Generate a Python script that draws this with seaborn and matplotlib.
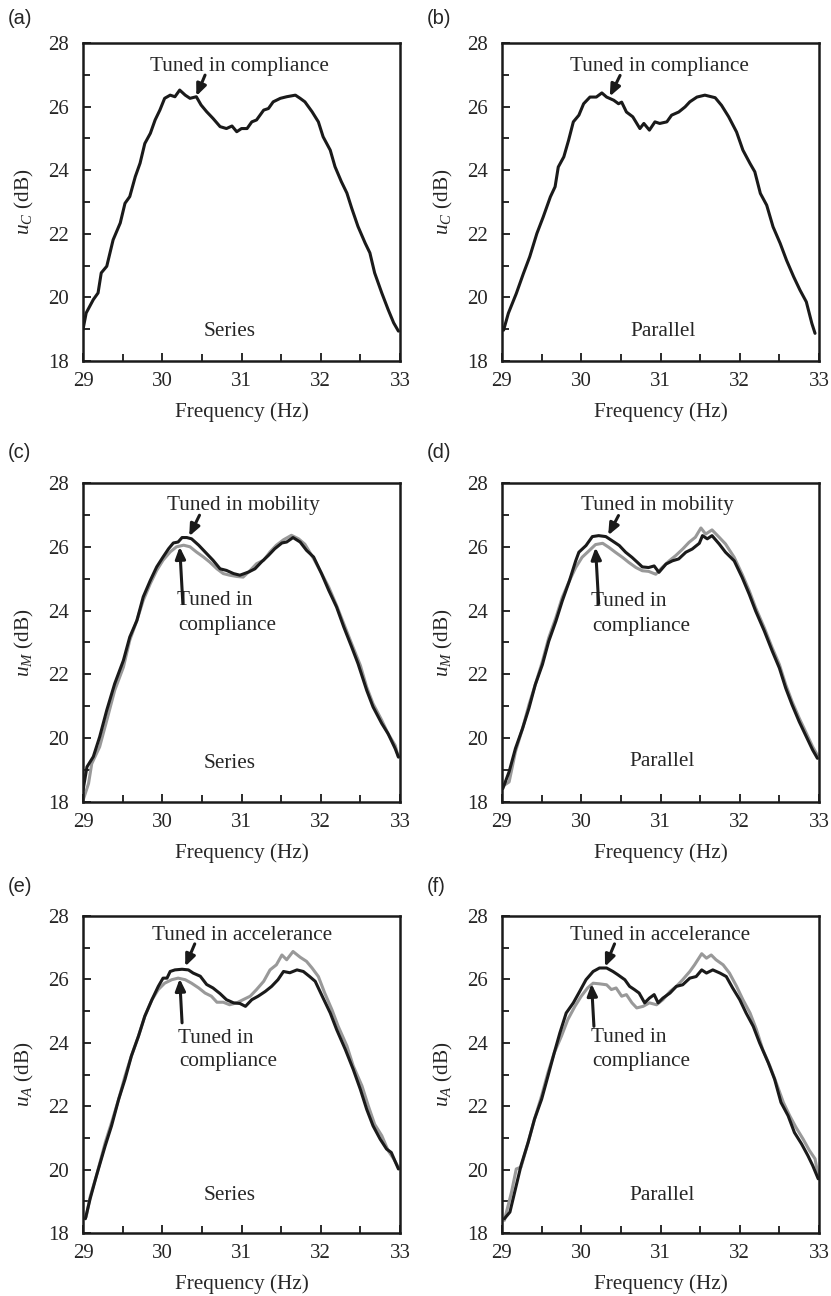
import numpy as np
import pandas as pd
import matplotlib
matplotlib.use("Agg")
import matplotlib.pyplot as plt
from matplotlib.ticker import MultipleLocator
import seaborn as sns

# ---------------- data ----------------
a_f = [29.00, 29.04, 29.13, 29.19, 29.23, 29.30, 29.38, 29.47, 29.53, 29.59, 29.66, 29.72, 29.78, 29.85,
       29.91, 29.97, 30.03, 30.10, 30.16, 30.22, 30.29, 30.35, 30.43, 30.49, 30.56, 30.64, 30.73, 30.81,
       30.88, 30.94, 31.00, 31.07, 31.13, 31.19, 31.28, 31.34, 31.40, 31.49, 31.57, 31.68, 31.74, 31.80,
       31.89, 31.97, 32.03, 32.12, 32.18, 32.26, 32.33, 32.39, 32.47, 32.56, 32.62, 32.68, 32.77, 32.85,
       32.92, 32.98]
a_c = [18.99, 19.51, 19.93, 20.14, 20.77, 20.98, 21.81, 22.34, 22.96, 23.17, 23.80, 24.22, 24.84, 25.16,
       25.58, 25.89, 26.26, 26.36, 26.31, 26.52, 26.36, 26.26, 26.31, 26.05, 25.84, 25.63, 25.37, 25.31,
       25.39, 25.21, 25.31, 25.31, 25.52, 25.58, 25.89, 25.94, 26.15, 26.26, 26.31, 26.36, 26.26, 26.15,
       25.84, 25.52, 25.05, 24.63, 24.11, 23.64, 23.28, 22.81, 22.23, 21.71, 21.40, 20.77, 20.14, 19.62,
       19.20, 18.94]

b_f = [29.02, 29.08, 29.18, 29.27, 29.35, 29.44, 29.52, 29.61, 29.67, 29.71, 29.78, 29.84, 29.90, 29.97,
       30.03, 30.11, 30.19, 30.26, 30.32, 30.41, 30.47, 30.51, 30.57, 30.65, 30.74, 30.79, 30.86, 30.93,
       30.99, 31.08, 31.14, 31.23, 31.31, 31.37, 31.46, 31.56, 31.69, 31.77, 31.86, 31.96, 32.04, 32.13,
       32.19, 32.26, 32.34, 32.42, 32.51, 32.59, 32.68, 32.76, 32.84, 32.91, 32.95]
b_c = [18.97, 19.50, 20.12, 20.75, 21.28, 22.01, 22.53, 23.16, 23.48, 24.10, 24.42, 24.94, 25.52, 25.73,
       26.09, 26.30, 26.30, 26.43, 26.30, 26.20, 26.09, 26.14, 25.83, 25.68, 25.31, 25.47, 25.26, 25.52,
       25.47, 25.52, 25.73, 25.83, 25.99, 26.15, 26.30, 26.36, 26.28, 26.04, 25.68, 25.20, 24.63, 24.21,
       23.95, 23.27, 22.90, 22.22, 21.70, 21.17, 20.65, 20.23, 19.86, 19.18, 18.87]

c_f_m = [29.00, 29.05, 29.13, 29.21, 29.30, 29.40, 29.51, 29.59, 29.68, 29.76, 29.85, 29.93, 30.01, 30.08,
         30.14, 30.20, 30.25, 30.31, 30.37, 30.46, 30.54, 30.64, 30.73, 30.81, 30.90, 30.98, 31.09, 31.17,
         31.25, 31.34, 31.42, 31.51, 31.57, 31.65, 31.74, 31.82, 31.91, 32.01, 32.10, 32.20, 32.29, 32.39,
         32.47, 32.58, 32.66, 32.77, 32.85, 32.94, 32.98]
c_m = [18.37, 19.10, 19.42, 20.04, 20.88, 21.71, 22.44, 23.17, 23.69, 24.43, 24.95, 25.37, 25.68, 25.94,
       26.12, 26.15, 26.29, 26.29, 26.25, 26.05, 25.84, 25.58, 25.31, 25.26, 25.16, 25.11, 25.21, 25.31,
       25.52, 25.73, 25.94, 26.12, 26.15, 26.29, 26.15, 25.89, 25.68, 25.16, 24.64, 24.11, 23.49, 22.86,
       22.34, 21.50, 20.98, 20.46, 20.14, 19.67, 19.41]
c_f_c = [29.00, 29.07, 29.11, 29.21, 29.30, 29.40, 29.51, 29.59, 29.68, 29.76, 29.85, 29.93, 30.01, 30.10,
         30.18, 30.27, 30.35, 30.43, 30.52, 30.60, 30.69, 30.77, 30.85, 30.94, 31.02, 31.11, 31.19, 31.28,
         31.36, 31.44, 31.53, 31.63, 31.72, 31.80, 31.91, 31.99, 32.10, 32.20, 32.29, 32.39, 32.50, 32.58,
         32.66, 32.77, 32.85, 32.94, 32.98]
c_c = [18.05, 18.58, 19.20, 19.73, 20.56, 21.50, 22.23, 23.07, 23.69, 24.32, 24.85, 25.26, 25.58, 25.84,
       26.00, 26.05, 26.00, 25.84, 25.68, 25.52, 25.31, 25.16, 25.11, 25.07, 25.05, 25.26, 25.47, 25.58,
       25.84, 26.05, 26.22, 26.36, 26.25, 26.08, 25.63, 25.26, 24.74, 24.16, 23.59, 22.96, 22.28, 21.60,
       21.08, 20.56, 20.14, 19.77, 19.41]

d_f_m = [29.01, 29.09, 29.17, 29.26, 29.34, 29.42, 29.51, 29.59, 29.68, 29.76, 29.85, 29.93, 29.97, 30.06,
         30.14, 30.22, 30.31, 30.39, 30.48, 30.56, 30.64, 30.71, 30.77, 30.85, 30.92, 30.98, 31.07, 31.15,
         31.23, 31.32, 31.40, 31.49, 31.53, 31.59, 31.65, 31.74, 31.82, 31.93, 32.03, 32.12, 32.20, 32.31,
         32.41, 32.50, 32.58, 32.66, 32.75, 32.83, 32.92, 32.98]
d_m = [18.42, 18.95, 19.68, 20.31, 20.94, 21.68, 22.31, 23.04, 23.67, 24.30, 24.93, 25.56, 25.83, 26.04,
       26.32, 26.35, 26.32, 26.19, 26.04, 25.83, 25.67, 25.51, 25.37, 25.35, 25.40, 25.20, 25.46, 25.56,
       25.62, 25.83, 25.93, 26.11, 26.35, 26.25, 26.35, 26.09, 25.83, 25.56, 25.04, 24.51, 23.99, 23.36,
       22.73, 22.20, 21.57, 21.05, 20.52, 20.10, 19.63, 19.37]
d_f_c = [29.03, 29.09, 29.17, 29.26, 29.34, 29.42, 29.51, 29.59, 29.68, 29.76, 29.85, 29.93, 30.01, 30.10,
         30.18, 30.27, 30.35, 30.43, 30.52, 30.60, 30.69, 30.77, 30.85, 30.94, 31.02, 31.11, 31.19, 31.28,
         31.36, 31.44, 31.51, 31.57, 31.65, 31.74, 31.82, 31.93, 32.03, 32.12, 32.20, 32.31, 32.41, 32.50,
         32.58, 32.66, 32.75, 32.83, 32.92, 32.98]
d_c = [18.53, 18.63, 19.58, 20.31, 21.05, 21.68, 22.41, 23.15, 23.78, 24.41, 24.93, 25.35, 25.67, 25.88,
       26.07, 26.11, 25.98, 25.83, 25.67, 25.51, 25.35, 25.25, 25.23, 25.14, 25.35, 25.56, 25.72, 25.93,
       26.14, 26.30, 26.59, 26.40, 26.53, 26.30, 26.09, 25.67, 25.14, 24.62, 24.09, 23.46, 22.83, 22.31,
       21.68, 21.15, 20.63, 20.21, 19.73, 19.47]

e_f_a = [29.03, 29.09, 29.17, 29.28, 29.36, 29.45, 29.53, 29.61, 29.70, 29.78, 29.87, 29.95, 30.01, 30.06,
         30.10, 30.16, 30.25, 30.33, 30.39, 30.48, 30.56, 30.64, 30.73, 30.81, 30.90, 30.98, 31.05, 31.13,
         31.21, 31.30, 31.38, 31.46, 31.53, 31.61, 31.70, 31.78, 31.86, 31.93, 32.03, 32.12, 32.20, 32.31,
         32.41, 32.50, 32.58, 32.66, 32.75, 32.83, 32.89, 32.98]
e_a = [18.45, 19.08, 19.81, 20.75, 21.38, 22.22, 22.85, 23.58, 24.21, 24.84, 25.36, 25.78, 26.04, 26.04,
       26.25, 26.30, 26.32, 26.30, 26.20, 26.10, 25.84, 25.73, 25.55, 25.36, 25.26, 25.24, 25.15, 25.36,
       25.47, 25.62, 25.78, 25.99, 26.25, 26.21, 26.30, 26.25, 26.09, 25.94, 25.41, 24.94, 24.42, 23.79,
       23.16, 22.53, 21.90, 21.38, 20.96, 20.65, 20.54, 20.02]
e_f_c = [29.04, 29.09, 29.17, 29.28, 29.36, 29.45, 29.53, 29.61, 29.70, 29.78, 29.87, 29.95, 30.03, 30.12,
         30.20, 30.29, 30.37, 30.46, 30.54, 30.62, 30.69, 30.77, 30.85, 30.94, 31.02, 31.11, 31.19, 31.28,
         31.36, 31.44, 31.51, 31.57, 31.65, 31.74, 31.82, 31.89, 31.97, 32.05, 32.14, 32.22, 32.33, 32.41,
         32.52, 32.60, 32.68, 32.77, 32.85, 32.92, 32.98]
e_c = [18.51, 19.14, 19.81, 20.85, 21.48, 22.22, 22.95, 23.58, 24.21, 24.84, 25.36, 25.68, 25.88, 25.99,
       26.04, 25.99, 25.88, 25.73, 25.57, 25.47, 25.28, 25.28, 25.20, 25.26, 25.36, 25.47, 25.68, 25.94,
       26.30, 26.46, 26.77, 26.62, 26.88, 26.70, 26.57, 26.36, 26.09, 25.57, 25.05, 24.52, 23.90, 23.27,
       22.64, 22.01, 21.43, 21.07, 20.60, 20.34, 20.07]

f_f_a = [29.03, 29.10, 29.16, 29.24, 29.33, 29.41, 29.50, 29.58, 29.66, 29.73, 29.81, 29.90, 29.98, 30.06,
         30.15, 30.23, 30.32, 30.40, 30.46, 30.55, 30.61, 30.67, 30.73, 30.80, 30.86, 30.92, 30.97, 31.03,
         31.12, 31.20, 31.28, 31.37, 31.45, 31.52, 31.58, 31.66, 31.75, 31.83, 31.91, 32.00, 32.08, 32.17,
         32.25, 32.36, 32.44, 32.52, 32.61, 32.69, 32.78, 32.86, 32.92, 32.99]
f_a = [18.45, 18.66, 19.29, 20.13, 20.86, 21.59, 22.22, 22.95, 23.69, 24.31, 24.94, 25.26, 25.62, 25.99,
       26.25, 26.36, 26.36, 26.25, 26.15, 25.99, 25.78, 25.68, 25.57, 25.26, 25.41, 25.52, 25.26, 25.41,
       25.57, 25.78, 25.83, 26.04, 26.09, 26.30, 26.20, 26.30, 26.20, 26.09, 25.73, 25.36, 24.94, 24.52,
       24.00, 23.37, 22.85, 22.12, 21.70, 21.17, 20.81, 20.44, 20.13, 19.71]
f_f_c = [29.03, 29.12, 29.18, 29.24, 29.33, 29.41, 29.50, 29.58, 29.66, 29.75, 29.83, 29.92, 30.00, 30.08,
         30.15, 30.23, 30.32, 30.38, 30.44, 30.51, 30.57, 30.64, 30.70, 30.78, 30.86, 30.95, 31.03, 31.12,
         31.20, 31.28, 31.37, 31.43, 31.52, 31.58, 31.64, 31.70, 31.79, 31.87, 31.96, 32.04, 32.13, 32.21,
         32.29, 32.38, 32.46, 32.55, 32.63, 32.71, 32.80, 32.88, 32.95, 32.99]
f_c = [18.40, 19.29, 20.02, 20.08, 20.86, 21.59, 22.33, 23.06, 23.69, 24.21, 24.73, 25.15, 25.47, 25.73,
       25.88, 25.86, 25.83, 25.68, 25.73, 25.47, 25.52, 25.26, 25.10, 25.15, 25.26, 25.20, 25.36, 25.62,
       25.78, 25.99, 26.25, 26.46, 26.81, 26.67, 26.77, 26.62, 26.46, 26.20, 25.78, 25.36, 24.94, 24.42,
       23.79, 23.27, 22.74, 22.12, 21.70, 21.33, 20.96, 20.60, 20.34, 19.81]

panel_labels = ["(a)", "(b)", "(c)", "(d)", "(e)", "(f)"]
ylabels = [r"$u_C$ (dB)", r"$u_C$ (dB)", r"$u_M$ (dB)", r"$u_M$ (dB)", r"$u_A$ (dB)", r"$u_A$ (dB)"]
conn_labels = ["Series", "Parallel", "Series", "Parallel", "Series", "Parallel"]
xlabel = "Frequency (Hz)"
x_ticks = [29, 30, 31, 32, 33]
y_ticks = [18, 20, 22, 24, 26, 28]

# ---------------- style ----------------
sns.set_style("ticks")
plt.rcParams["font.family"] = ["Liberation Serif", "DejaVu Serif"]
plt.rcParams["mathtext.fontset"] = "custom"
plt.rcParams["mathtext.rm"] = "Liberation Serif"
plt.rcParams["mathtext.it"] = "Liberation Serif:italic"
plt.rcParams["mathtext.bf"] = "Liberation Serif:bold"

W, H = 831, 1296
fig = plt.figure(figsize=(W / 100, H / 100), dpi=100)

cols_left = [83, 502]
ax_w = 317
rows = [(43, 361), (483, 802), (916, 1233)]
label_off = [25, 30, 29]

BLACK = "#1a1a1a"
GRAY = "#999999"
FS = 15.3
TFS = 15

def make_ax(r, c):
    top, bot = rows[r]
    left = cols_left[c]
    return fig.add_axes([left / W, 1 - bot / H, ax_w / W, (bot - top) / H])

def style_ax(ax, i):
    ax.set_xlim(29, 33)
    ax.set_ylim(18, 28)
    ax.set_xticks(x_ticks)
    ax.set_yticks(y_ticks)
    ax.xaxis.set_minor_locator(MultipleLocator(0.5))
    ax.yaxis.set_minor_locator(MultipleLocator(1))
    ax.tick_params(which="both", direction="in", width=1.3, color=BLACK, labelsize=TFS)
    ax.tick_params(which="major", length=6)
    ax.tick_params(which="minor", length=5)
    ax.tick_params(axis="y", which="both", pad=10)
    ax.tick_params(axis="x", which="both", pad=8)
    for s in ax.spines.values():
        s.set_linewidth(1.8)
        s.set_color(BLACK)
        s.set_visible(True)
    ax.set_xlabel(xlabel, fontsize=FS, labelpad=8)
    ax.set_ylabel(ylabels[i], fontsize=FS, labelpad=9)
    r = i // 2
    fig_x = (cols_left[i % 2] - 75) / W
    fig_y = 1 - (rows[r][0] - label_off[r]) / H
    fig.text(fig_x, fig_y, panel_labels[i], fontsize=14.5, family=["Liberation Sans", "DejaVu Sans"],
             ha="left", va="center")

def draw(ax, f, v, color):
    df = pd.DataFrame({"f": f, "v": v})
    sns.lineplot(data=df, x="f", y="v", ax=ax, color=color, lw=2.2, sort=False,
                 estimator=None, legend=False)

def arrow(ax, tail, tip):
    ax.annotate("", xy=tip, xytext=tail,
                arrowprops=dict(arrowstyle="-|>,head_length=0.7,head_width=0.3",
                                color=BLACK, lw=2.2, shrinkA=0, shrinkB=0))

# (a)
ax = make_ax(0, 0)
draw(ax, a_f, a_c, BLACK)
style_ax(ax, 0)
ax.text(30.98, 27.25, "Tuned in compliance", ha="center", va="center", fontsize=FS)
arrow(ax, (30.54, 26.99), (30.43, 26.33))
ax.text(30.85, 18.94, conn_labels[0], ha="center", va="center", fontsize=FS)

# (b)
ax = make_ax(0, 1)
draw(ax, b_f, b_c, BLACK)
style_ax(ax, 1)
ax.text(30.99, 27.25, "Tuned in compliance", ha="center", va="center", fontsize=FS)
arrow(ax, (30.49, 26.98), (30.36, 26.32))
ax.text(31.03, 18.92, conn_labels[1], ha="center", va="center", fontsize=FS)

# (c)
ax = make_ax(1, 0)
draw(ax, c_f_c, c_c, GRAY)
draw(ax, c_f_m, c_m, BLACK)
style_ax(ax, 2)
ax.text(31.02, 27.30, "Tuned in mobility", ha="center", va="center", fontsize=FS)
arrow(ax, (30.47, 26.99), (30.34, 26.33))
ax.text(30.18, 24.32, "Tuned in", ha="left", va="center", fontsize=FS)
ax.text(30.20, 23.54, "compliance", ha="left", va="center", fontsize=FS)
arrow(ax, (30.26, 24.22), (30.22, 26.00))
ax.text(30.85, 19.2, conn_labels[2], ha="center", va="center", fontsize=FS)

# (d)
ax = make_ax(1, 1)
draw(ax, d_f_c, d_c, GRAY)
draw(ax, d_f_m, d_m, BLACK)
style_ax(ax, 3)
ax.text(30.96, 27.30, "Tuned in mobility", ha="center", va="center", fontsize=FS)
arrow(ax, (30.47, 26.98), (30.34, 26.36))
ax.text(30.12, 24.30, "Tuned in", ha="left", va="center", fontsize=FS)
ax.text(30.14, 23.51, "compliance", ha="left", va="center", fontsize=FS)
arrow(ax, (30.22, 24.22), (30.18, 25.98))
ax.text(31.02, 19.26, conn_labels[3], ha="center", va="center", fontsize=FS)

# (e)
ax = make_ax(2, 0)
draw(ax, e_f_c, e_c, GRAY)
draw(ax, e_f_a, e_a, BLACK)
style_ax(ax, 4)
ax.text(31.01, 27.40, "Tuned in accelerance", ha="center", va="center", fontsize=FS)
arrow(ax, (30.41, 27.12), (30.29, 26.41))
ax.text(30.20, 24.13, "Tuned in", ha="left", va="center", fontsize=FS)
ax.text(30.22, 23.42, "compliance", ha="left", va="center", fontsize=FS)
arrow(ax, (30.25, 24.63), (30.22, 26.02))
ax.text(30.85, 19.18, conn_labels[4], ha="center", va="center", fontsize=FS)

# (f)
ax = make_ax(2, 1)
draw(ax, f_f_c, f_c, GRAY)
draw(ax, f_f_a, f_a, BLACK)
style_ax(ax, 5)
ax.text(30.99, 27.40, "Tuned in accelerance", ha="center", va="center", fontsize=FS)
arrow(ax, (30.42, 27.12), (30.30, 26.40))
ax.text(30.12, 24.16, "Tuned in", ha="left", va="center", fontsize=FS)
ax.text(30.14, 23.42, "compliance", ha="left", va="center", fontsize=FS)
arrow(ax, (30.16, 24.52), (30.13, 25.86))
ax.text(31.02, 19.18, conn_labels[5], ha="center", va="center", fontsize=FS)

fig.savefig("out.png", dpi=100)
